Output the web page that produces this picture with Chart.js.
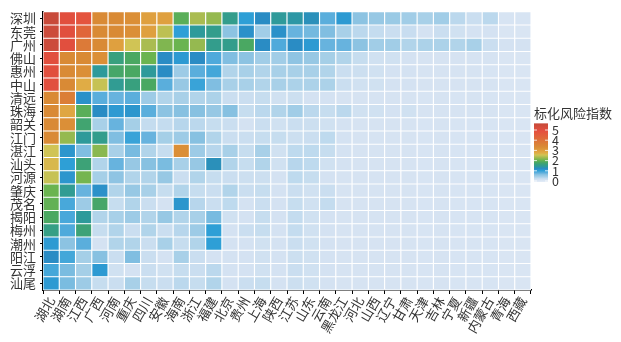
<!DOCTYPE html>
<html>
<head>
<meta charset="utf-8">
<script src="https://cdn.jsdelivr.net/npm/chart.js@4"></script>
<style>
  html, body { margin: 0; padding: 0; background: #fff; }
  #wrap { width: 621px; height: 342px; }
</style>
</head>
<body>
<div id="wrap"><canvas id="heat"></canvas></div>
<script>
// rows (top to bottom) and columns (left to right)
const cities = ['深圳', '东莞', '广州', '佛山', '惠州', '中山', '清远', '珠海', '韶关', '江门', '湛江',
  '汕头', '河源', '肇庆', '茂名', '揭阳', '梅州', '潮州', '阳江', '云浮', '汕尾'];
const provinces = ['湖北', '湖南', '江西', '广西', '河南', '重庆', '四川', '安徽', '海南', '浙江', '福建',
  '北京', '贵州', '上海', '陕西', '江苏', '山东', '云南', '黑龙江', '河北', '山西', '辽宁', '甘肃',
  '天津', '吉林', '宁夏', '新疆', '内蒙古', '青海', '西藏'];
const legendTicks = [0, 1, 2, 3, 4, 5];

// standardised risk index, one array per city, in province order
const riskIndex = [
  [5.6, 5.0, 4.8, 3.4, 3.4, 3.3, 3.0, 3.0, 2.0, 2.4, 2.3, 1.6, 1.1, 1.3, 1.5, 1.45, 1.35, 0.9, 1.15, 0.7, 0.62, 0.6, 0.55, 0.5, 0.55, 0.4, 0.3, 0.4, 0.18, 0.18],
  [5.5, 5.0, 4.3, 3.4, 3.4, 3.3, 3.0, 2.5, 1.1, 1.5, 1.6, 0.7, 1.25, 0.55, 1.25, 0.85, 0.8, 0.75, 0.5, 0.4, 0.35, 0.3, 0.32, 0.22, 0.3, 0.25, 0.22, 0.22, 0.15, 0.15],
  [5.5, 5.0, 3.8, 3.4, 3.0, 2.6, 2.4, 2.2, 2.1, 2.3, 1.6, 1.6, 1.9, 1.3, 0.95, 1.3, 1.15, 0.85, 0.85, 0.7, 0.55, 0.55, 0.45, 0.48, 0.48, 0.45, 0.5, 0.3, 0.22, 0.22],
  [5.0, 3.4, 3.4, 3.3, 1.7, 1.9, 2.1, 1.3, 1.15, 1.3, 0.95, 0.75, 0.7, 0.55, 0.55, 0.68, 0.62, 0.52, 0.45, 0.33, 0.25, 0.25, 0.22, 0.2, 0.2, 0.2, 0.2, 0.2, 0.15, 0.15],
  [5.0, 3.4, 3.3, 1.5, 1.85, 1.9, 1.5, 1.3, 0.58, 0.9, 1.0, 0.45, 0.5, 0.45, 0.5, 0.5, 0.5, 0.45, 0.3, 0.28, 0.25, 0.22, 0.22, 0.2, 0.2, 0.2, 0.2, 0.18, 0.15, 0.15],
  [5.0, 3.4, 2.8, 2.55, 1.55, 1.7, 1.9, 0.9, 0.62, 1.05, 0.75, 0.5, 0.5, 0.45, 0.5, 0.48, 0.48, 0.48, 0.3, 0.25, 0.25, 0.22, 0.22, 0.2, 0.2, 0.2, 0.2, 0.2, 0.15, 0.15],
  [3.4, 3.7, 1.25, 0.9, 0.85, 0.9, 0.58, 0.45, 0.5, 0.45, 0.48, 0.3, 0.3, 0.33, 0.25, 0.28, 0.22, 0.22, 0.2, 0.2, 0.2, 0.2, 0.2, 0.18, 0.2, 0.18, 0.2, 0.18, 0.15, 0.15],
  [3.4, 2.9, 2.0, 1.3, 1.15, 1.2, 0.9, 0.7, 0.72, 0.72, 0.62, 0.72, 0.33, 0.4, 0.45, 0.55, 0.4, 0.33, 0.4, 0.25, 0.25, 0.22, 0.25, 0.2, 0.2, 0.2, 0.2, 0.2, 0.15, 0.15],
  [3.4, 3.3, 1.8, 0.5, 0.85, 0.52, 0.35, 0.35, 0.42, 0.4, 0.33, 0.3, 0.22, 0.3, 0.25, 0.3, 0.28, 0.25, 0.22, 0.2, 0.2, 0.2, 0.2, 0.18, 0.2, 0.18, 0.18, 0.18, 0.15, 0.15],
  [3.4, 2.3, 1.5, 1.6, 0.75, 1.05, 0.85, 0.52, 0.58, 0.72, 0.45, 0.3, 0.3, 0.33, 0.33, 0.28, 0.3, 0.38, 0.22, 0.2, 0.2, 0.2, 0.2, 0.18, 0.2, 0.18, 0.18, 0.18, 0.15, 0.15],
  [2.6, 1.2, 0.75, 2.25, 0.5, 0.78, 0.45, 0.33, 3.3, 0.58, 0.42, 0.5, 0.33, 0.5, 0.25, 0.38, 0.38, 0.33, 0.22, 0.2, 0.2, 0.2, 0.2, 0.18, 0.2, 0.18, 0.18, 0.18, 0.15, 0.15],
  [2.7, 1.1, 1.75, 0.45, 0.85, 0.62, 0.72, 0.77, 0.5, 0.62, 1.35, 0.45, 0.33, 0.45, 0.25, 0.42, 0.38, 0.25, 0.22, 0.2, 0.2, 0.2, 0.2, 0.18, 0.2, 0.18, 0.18, 0.18, 0.15, 0.15],
  [2.55, 1.2, 2.15, 0.52, 0.68, 0.45, 0.45, 0.62, 0.3, 0.45, 0.33, 0.3, 0.28, 0.28, 0.22, 0.38, 0.33, 0.22, 0.2, 0.2, 0.2, 0.2, 0.2, 0.18, 0.2, 0.18, 0.18, 0.18, 0.15, 0.15],
  [2.1, 1.55, 0.85, 1.25, 0.45, 0.62, 0.5, 0.33, 0.45, 0.33, 0.3, 0.45, 0.3, 0.33, 0.22, 0.3, 0.25, 0.3, 0.2, 0.2, 0.2, 0.2, 0.2, 0.18, 0.2, 0.18, 0.18, 0.18, 0.15, 0.15],
  [2.05, 0.98, 0.58, 1.85, 0.33, 0.45, 0.3, 0.22, 1.2, 0.42, 0.3, 0.38, 0.22, 0.3, 0.22, 0.33, 0.25, 0.35, 0.2, 0.2, 0.2, 0.2, 0.2, 0.18, 0.2, 0.18, 0.18, 0.18, 0.15, 0.15],
  [1.9, 0.98, 1.5, 0.45, 0.5, 0.58, 0.45, 0.62, 0.45, 0.5, 0.78, 0.25, 0.22, 0.33, 0.22, 0.35, 0.25, 0.22, 0.2, 0.2, 0.2, 0.2, 0.2, 0.18, 0.2, 0.18, 0.18, 0.18, 0.15, 0.15],
  [1.65, 0.95, 1.75, 0.33, 0.45, 0.3, 0.45, 0.3, 0.42, 0.58, 1.1, 0.22, 0.3, 0.33, 0.22, 0.35, 0.25, 0.22, 0.2, 0.2, 0.2, 0.2, 0.2, 0.18, 0.2, 0.18, 0.18, 0.18, 0.15, 0.15],
  [1.15, 0.7, 0.9, 0.22, 0.45, 0.45, 0.3, 0.5, 0.33, 0.45, 1.1, 0.22, 0.22, 0.25, 0.22, 0.3, 0.25, 0.22, 0.2, 0.2, 0.2, 0.2, 0.2, 0.18, 0.2, 0.18, 0.18, 0.18, 0.15, 0.15],
  [1.3, 1.0, 0.52, 0.72, 0.3, 0.75, 0.3, 0.22, 0.5, 0.3, 0.22, 0.22, 0.22, 0.25, 0.22, 0.28, 0.25, 0.22, 0.2, 0.2, 0.2, 0.2, 0.2, 0.18, 0.2, 0.18, 0.18, 0.18, 0.15, 0.15],
  [1.0, 0.77, 0.52, 1.15, 0.25, 0.22, 0.3, 0.25, 0.33, 0.3, 0.4, 0.22, 0.22, 0.25, 0.22, 0.3, 0.25, 0.22, 0.2, 0.2, 0.2, 0.2, 0.2, 0.18, 0.2, 0.18, 0.18, 0.18, 0.15, 0.15],
  [1.15, 0.77, 0.58, 0.33, 0.3, 0.5, 0.33, 0.3, 0.4, 0.33, 0.45, 0.22, 0.3, 0.33, 0.22, 0.28, 0.25, 0.22, 0.2, 0.2, 0.2, 0.2, 0.2, 0.18, 0.2, 0.18, 0.18, 0.18, 0.15, 0.15]
];

// colour ramp: value -> colour
const colourStops = [
  [0, '#e3ecf7'], [0.2, '#d6e3f2'], [0.35, '#c4dcef'], [0.5, '#a8d0e8'], [0.7, '#8cc3e2'],
  [0.9, '#5aaedc'], [1.1, '#2e9fd6'], [1.3, '#2a8cc4'], [1.5, '#2e9a9a'], [1.7, '#38a07e'],
  [1.9, '#4aa862'], [2.1, '#6ab450'], [2.35, '#a0ba50'], [2.6, '#d0c455'], [2.8, '#e0ac45'],
  [3.1, '#de9a3c'], [3.4, '#d98a35'], [3.8, '#dc7a38'], [4.3, '#e0663a'], [4.9, '#e5503f'],
  [5.6, '#c84a3a']
];

function hexToRgb(h) {
  return [parseInt(h.slice(1, 3), 16), parseInt(h.slice(3, 5), 16), parseInt(h.slice(5, 7), 16)];
}

function colourFor(v) {
  if (v <= colourStops[0][0]) return colourStops[0][1];
  for (let i = 1; i < colourStops.length; i++) {
    if (v <= colourStops[i][0]) {
      const [v0, c0] = colourStops[i - 1];
      const [v1, c1] = colourStops[i];
      const t = (v - v0) / (v1 - v0);
      const a = hexToRgb(c0), b = hexToRgb(c1);
      const rgb = a.map((x, k) => Math.round(x + (b[k] - x) * t));
      return `rgb(${rgb[0]},${rgb[1]},${rgb[2]})`;
    }
  }
  return colourStops[colourStops.length - 1][1];
}

const FONT = '"Noto Sans CJK SC", "Noto Sans", sans-serif';
const TEXT = '#333';

// stacked unit bars, bottom row first so 深圳 ends up on top
const datasets = cities.slice().reverse().map((city) => {
  const row = riskIndex[cities.indexOf(city)];
  return {
    label: city,
    data: provinces.map(() => 1),
    backgroundColor: row.map(colourFor),
    borderColor: '#fff',
    borderWidth: 0.9,
    borderSkipped: false,
    barPercentage: 1,
    categoryPercentage: 1
  };
});

// colour bar legend drawn by hand
const colourBar = {
  id: 'colourBar',
  afterDraw(chart) {
    const ctx = chart.ctx;
    const x = 534, w = 14, yZero = 181, perUnit = 10.2, vMax = 5.65;
    const yTop = yZero - vMax * perUnit;
    ctx.save();
    ctx.fillStyle = TEXT;
    ctx.font = '13px ' + FONT;
    ctx.textBaseline = 'alphabetic';
    ctx.textAlign = 'left';
    ctx.fillText('标化风险指数', 534, 118);

    const grad = ctx.createLinearGradient(0, yZero + 1, 0, yTop);
    colourStops.forEach(([v, c]) => grad.addColorStop(Math.min(1, v / vMax), c));
    ctx.fillStyle = grad;
    ctx.fillRect(x, yTop, w, yZero + 1 - yTop);

    ctx.strokeStyle = '#fff';
    ctx.lineWidth = 0.8;
    ctx.font = '12.5px ' + FONT;
    ctx.textBaseline = 'middle';
    legendTicks.forEach((t) => {
      const y = yZero - t * perUnit;
      ctx.beginPath();
      ctx.moveTo(x, y); ctx.lineTo(x + 3, y);
      ctx.moveTo(x + w - 3, y); ctx.lineTo(x + w, y);
      ctx.stroke();
      ctx.fillStyle = TEXT;
      ctx.fillText(String(t), x + w + 4, y);
    });
    ctx.restore();
  }
};

new Chart(document.getElementById('heat'), {
  type: 'bar',
  data: { labels: provinces, datasets: datasets },
  options: {
    responsive: true,
    maintainAspectRatio: false,
    animation: false,
    layout: { padding: { top: 8.5, right: 90, left: 0, bottom: 0 } },
    plugins: {
      legend: { display: false },
      tooltip: { enabled: false }
    },
    scales: {
      x: {
        stacked: true,
        afterFit: (axis) => { axis.height = 342 - 8.5 - 281.5; },
        grid: { display: true, drawOnChartArea: false, color: '#000', tickLength: 4, lineWidth: 1 },
        border: { display: true, color: '#000', width: 1.5 },
        ticks: {
          color: TEXT,
          font: { family: FONT, size: 13 },
          minRotation: 60,
          maxRotation: 60,
          autoSkip: false,
          padding: 0
        }
      },
      y: {
        stacked: true,
        min: 0,
        max: cities.length,
        afterFit: (axis) => { axis.width = 43; },
        afterBuildTicks: (axis) => {
          axis.ticks = cities.map((c, i) => ({ value: i + 0.5 }));
        },
        grid: { display: true, drawOnChartArea: false, color: '#000', tickLength: 3, lineWidth: 1 },
        border: { display: true, color: '#000', width: 1.5 },
        ticks: {
          color: TEXT,
          font: { family: FONT, size: 13 },
          padding: 4,
          autoSkip: false,
          callback: (value) => cities[cities.length - 1 - Math.floor(value)]
        }
      }
    }
  },
  plugins: [colourBar]
});
</script>
</body>
</html>
